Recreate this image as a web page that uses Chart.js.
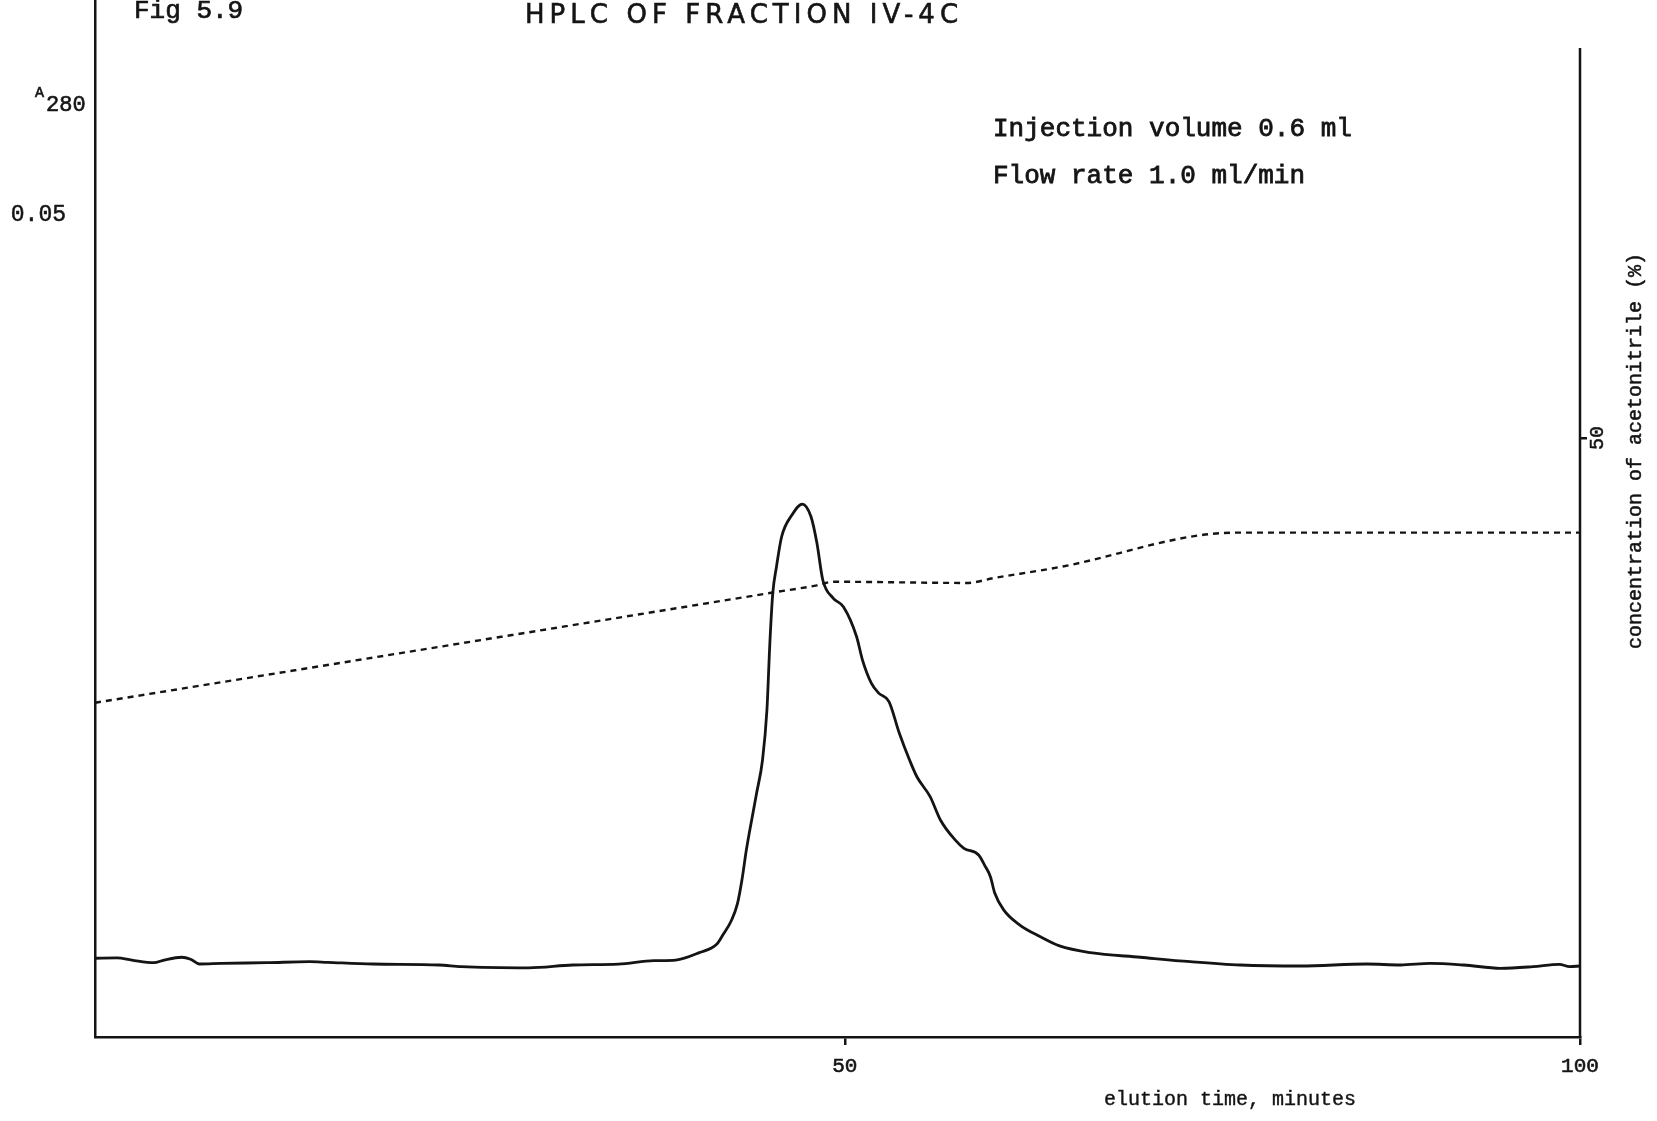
<!DOCTYPE html>
<html>
<head>
<meta charset="utf-8">
<title>HPLC of fraction IV-4C</title>
<script src="https://cdn.jsdelivr.net/npm/chart.js@4.4.1/dist/chart.umd.min.js"></script>
<style>
  html, body { margin: 0; padding: 0; background: #ffffff; }
  #wrap { position: relative; width: 1657px; height: 1121px; }
</style>
</head>
<body>
<div id="wrap"><canvas id="chart"></canvas></div>
<script>
// Elution profile, absorbance at 280 nm (left axis)
const timeMin = [-1, 0.5, 1.5, 3.0, 3.7, 4.9, 5.5, 6.1, 7.6, 10.7, 13.6, 14.8, 17.9, 22.4, 23.9, 28.5,
  31.5, 34.6, 37.0, 38.5, 40.1, 41.3, 41.7, 42.3, 42.7, 43.0, 43.3, 43.5, 44.0, 44.4, 44.7, 44.9,
  45.1, 45.35, 45.7, 46.4, 47.1, 47.7, 48.1, 48.5, 49.2, 49.9, 50.8, 51.2, 51.8, 52.3, 53.0, 53.7,
  54.4, 54.9, 55.8, 56.5, 57.5, 58.1, 59.1, 59.5, 59.9, 60.2, 60.8, 61.9, 63.3, 64.6, 66.7, 70.1,
  73.5, 76.9, 81.0, 85.5, 87.8, 89.8, 92.1, 94.6, 96.8, 98.6, 99.3, 100];
const absorbance = [0.00479, 0.00481, 0.00468, 0.00452, 0.00468, 0.00485, 0.00473, 0.00444, 0.00448,
  0.00452, 0.00458, 0.00454, 0.00444, 0.00438, 0.00428, 0.00421, 0.00438, 0.00443, 0.00464, 0.00468,
  0.00513, 0.00566, 0.00620, 0.00712, 0.00813, 0.00955, 0.01137, 0.01241, 0.01484, 0.01685, 0.01989,
  0.02397, 0.02701, 0.02861, 0.03043, 0.03175, 0.03242, 0.03165, 0.03005, 0.02780, 0.02670, 0.02617,
  0.02435, 0.02293, 0.02153, 0.02092, 0.02040, 0.01849, 0.01685, 0.01583, 0.01462, 0.01320, 0.01199,
  0.01148, 0.01107, 0.01046, 0.00975, 0.00874, 0.00773, 0.00681, 0.00610, 0.00554, 0.00513, 0.00485,
  0.00458, 0.00438, 0.00432, 0.00444, 0.00438, 0.00448, 0.00438, 0.00418, 0.00428, 0.00442, 0.00428,
  0.00432];

// Acetonitrile gradient, % (right axis)
const gradientTime = [-1, 32.6, 45.1, 48.1, 49.2, 58.3, 60.1, 64.5, 76.6, 100];
const acetonitrile = [27.9, 34.6, 37.1, 37.7, 38.0, 37.9, 38.3, 39.2, 42.1, 42.1];

// Tick values and their printed labels
const xTicks = [50, 100];
const xTickLabels = ['50', '100'];
const absTicks = [0.05];
const absTickLabels = ['0.05'];
const pctTicks = [50];
const pctTickLabels = ['50'];

const INK = '#141414';
const MONO = '"Liberation Mono", "DejaVu Sans Mono", monospace';
const TITLE = 'HPLC OF FRACTION IV-4C';

// Fixed plot frame on the page
const FRAME = { left: 95, right: 1580, bottom: 1037, width: 1657, height: 1121 };

const toPoints = (xs, ys) => xs.map((x, i) => ({ x, y: ys[i] }));
const setTicks = (values) => (scale) => { scale.ticks = values.map(v => ({ value: v })); };

// typewriter text: filled, with a hairline stroke for a heavier strike
function typed(ctx, text, x, y, weight) {
  ctx.fillText(text, x, y);
  ctx.lineWidth = weight;
  ctx.strokeText(text, x, y);
}

// Typed annotations, headings and the right-hand axis line
const annotate = {
  id: 'annotate',
  afterDraw(chart) {
    const { ctx, chartArea } = chart;
    ctx.save();
    ctx.fillStyle = INK;
    ctx.strokeStyle = INK;

    // right axis line (starts a little below the top edge)
    ctx.lineWidth = 2.5;
    ctx.beginPath();
    ctx.moveTo(chartArea.right, 48);
    ctx.lineTo(chartArea.right, chartArea.bottom + 1);
    ctx.stroke();

    ctx.textAlign = 'left';
    ctx.textBaseline = 'alphabetic';

    // lettered heading, spread out
    ctx.font = '26px "DejaVu Sans", "Liberation Sans", sans-serif';
    const natural = ctx.measureText(TITLE).width;
    ctx.letterSpacing = ((433 - natural) / (TITLE.length - 1)).toFixed(2) + 'px';
    typed(ctx, TITLE, 525, 23, 0.6);
    ctx.letterSpacing = '0px';

    ctx.font = '26px ' + MONO;
    typed(ctx, 'Fig 5.9', 134, 18, 0.7);

    // A280 axis label
    ctx.font = '15px ' + MONO;
    typed(ctx, 'A', 35, 97, 0.6);
    ctx.font = '22px ' + MONO;
    typed(ctx, '280', 46, 111, 0.6);

    // run conditions
    ctx.font = '26px ' + MONO;
    typed(ctx, 'Injection volume 0.6 ml', 993, 136, 0.8);
    typed(ctx, 'Flow rate 1.0 ml/min', 993, 183, 0.8);

    // x axis title
    ctx.font = '20px ' + MONO;
    ctx.textAlign = 'center';
    ctx.textBaseline = 'middle';
    typed(ctx, 'elution time, minutes', 1230, 1100, 0.4);

    // right axis title, reading upwards
    ctx.translate(1636, 451);
    ctx.rotate(-Math.PI / 2);
    ctx.font = '20px ' + MONO;
    typed(ctx, 'concentration of acetonitrile (%)', 0, 0, 0.5);
    ctx.restore();
  }
};

Chart.defaults.font.family = MONO;
Chart.defaults.color = INK;

new Chart(document.getElementById('chart'), {
  type: 'line',
  data: {
    datasets: [
      {
        label: 'A280',
        data: toPoints(timeMin, absorbance),
        yAxisID: 'y',
        borderColor: INK,
        borderWidth: 2.8,
        pointRadius: 0,
        cubicInterpolationMode: 'monotone',
        fill: false
      },
      {
        label: 'Acetonitrile (%)',
        data: toPoints(gradientTime, acetonitrile),
        yAxisID: 'y2',
        borderColor: INK,
        borderWidth: 2.4,
        borderDash: [6, 5],
        pointRadius: 0,
        cubicInterpolationMode: 'monotone',
        fill: false
      }
    ]
  },
  options: {
    responsive: true,
    maintainAspectRatio: false,
    animation: false,
    devicePixelRatio: 1,
    layout: { padding: 0 },
    plugins: { legend: { display: false }, tooltip: { enabled: false }, title: { display: false } },
    scales: {
      x: {
        type: 'linear',
        position: 'bottom',
        min: -1,
        max: 100,
        afterBuildTicks: setTicks(xTicks),
        afterFit(scale) {
          scale.height = FRAME.height - FRAME.bottom;
          scale.paddingLeft = 0;
          scale.paddingRight = 0;
        },
        grid: { display: true, drawOnChartArea: false, drawTicks: true, tickLength: 8, lineWidth: 2.5, color: INK },
        border: { display: true, width: 2.5, color: INK },
        ticks: {
          autoSkip: false,
          maxRotation: 0,
          padding: 9,
          font: { size: 21 },
          color: INK,
          textStrokeColor: INK,
          textStrokeWidth: 0.6,
          callback: (v, i) => xTickLabels[i]
        }
      },
      y: {
        type: 'linear',
        position: 'left',
        min: 0,
        max: 0.06308,
        afterBuildTicks: setTicks(absTicks),
        afterFit(scale) {
          scale.width = FRAME.left;
          scale.paddingTop = 0;
          scale.paddingBottom = 0;
        },
        grid: { display: false, drawTicks: false },
        border: { display: true, width: 2.5, color: INK },
        ticks: {
          padding: 29,
          font: { size: 23 },
          color: INK,
          textStrokeColor: INK,
          textStrokeWidth: 0.5,
          callback: (v, i) => absTickLabels[i]
        }
      },
      y2: {
        type: 'linear',
        position: 'right',
        min: 0,
        max: 86.56,
        afterBuildTicks: setTicks(pctTicks),
        afterFit(scale) {
          scale.width = FRAME.width - FRAME.right;
          scale.paddingTop = 0;
          scale.paddingBottom = 0;
        },
        grid: { display: true, drawOnChartArea: false, drawTicks: true, tickLength: 7, lineWidth: 2.5, color: INK },
        border: { display: false },
        ticks: {
          minRotation: 90,
          maxRotation: 90,
          crossAlign: 'center',
          padding: -1,
          font: { size: 20 },
          color: INK,
          textStrokeColor: INK,
          textStrokeWidth: 0.5,
          callback: (v, i) => pctTickLabels[i]
        }
      }
    }
  },
  plugins: [annotate]
});
</script>
</body>
</html>
